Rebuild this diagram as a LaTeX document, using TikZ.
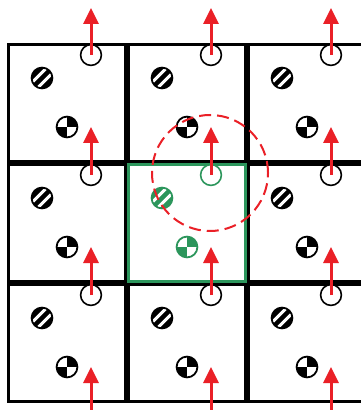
\documentclass[tikz,border=0pt]{standalone}
\usepackage{tikz}
\usetikzlibrary{positioning, arrows.meta, calc}
\definecolor{mred}{RGB}{234,32,39}
\definecolor{mgreen}{RGB}{44,150,92}

\begin{document}
\begin{tikzpicture}[
  x=0.5pt, y=0.5pt,
  cell/.style={draw=#1, line width=1.6pt, minimum size=58.4pt, inner sep=0pt},
  cell/.default=black,
  port/.style={circle, draw=#1, fill=white, line width=0.8pt, minimum size=10.4pt, inner sep=0pt},
  port/.default=black,
  mass/.style={circle, draw=#1, fill=white, line width=0.9pt, minimum size=10.4pt, inner sep=0pt,
               path picture={
                 \fill[#1] (path picture bounding box.center) rectangle (path picture bounding box.north east);
                 \fill[#1] (path picture bounding box.center) rectangle (path picture bounding box.south west);}},
  mass/.default=black,
  stripe/.style={circle, draw=#1, fill=#1, line width=0.9pt, minimum size=10.4pt, inner sep=0pt,
                 path picture={
                   \draw[white, line width=1.5pt]
                     ($(path picture bounding box.center)+(1.4pt,-1.4pt)+(-8pt,-8pt)$) -- ++(16pt,16pt)
                     ($(path picture bounding box.center)+(-1.4pt,1.4pt)+(-8pt,-8pt)$) -- ++(16pt,16pt);}},
  stripe/.default=black,
  flow/.style={-{Triangle[length=8pt, width=7.5pt]}, draw=mred, line width=1.5pt},
  reach/.style={circle, draw=mred, line width=1pt, dash pattern=on 6pt off 3pt,
                minimum size=58pt, inner sep=0pt},
]
\useasboundingbox (0,0) rectangle (360,-410);

% ================= cells =================
\node[cell] (a1) at (67,-103) {};
\node[cell, right=0pt of a1] (a2) {};
\node[cell, right=0pt of a2] (a3) {};
\node[cell, below=0pt of a1] (b1) {};
\node[cell=mgreen, right=0pt of b1] (b2) {};
\node[cell, right=0pt of b2] (b3) {};
\node[cell, below=0pt of b1] (c1) {};
\node[cell, right=0pt of c1] (c2) {};
\node[cell, right=0pt of c2] (c3) {};

% ================= Row a =================
\node[port] (pa1) at ($(a1)+(24,48)$) {};
\node[stripe] (sa1) at ($(a1)+(-25,25)$) {};
\node[mass] (ma1) at ($(a1)+(0,-24)$) {};
\node[port] (pa2) at ($(a2)+(24,48)$) {};
\node[stripe] (sa2) at ($(a2)+(-25,25)$) {};
\node[mass] (ma2) at ($(a2)+(0,-24)$) {};
\node[port] (pa3) at ($(a3)+(24,48)$) {};
\node[stripe] (sa3) at ($(a3)+(-25,25)$) {};
\node[mass] (ma3) at ($(a3)+(0,-24)$) {};

% ================= Row b (green cell in the middle) =================
\node[port] (pb1) at ($(b1)+(24,48)$) {};
\node[stripe] (sb1) at ($(b1)+(-25,25)$) {};
\node[mass] (mb1) at ($(b1)+(0,-24)$) {};
\node[port=mgreen] (pb2) at ($(b2)+(24,48)$) {};
\node[stripe=mgreen] (sb2) at ($(b2)+(-25,25)$) {};
\node[mass=mgreen] (mb2) at ($(b2)+(0,-24)$) {};
\node[port] (pb3) at ($(b3)+(24,48)$) {};
\node[stripe] (sb3) at ($(b3)+(-25,25)$) {};
\node[mass] (mb3) at ($(b3)+(0,-24)$) {};

% ================= Row c =================
\node[port] (pc1) at ($(c1)+(24,48)$) {};
\node[stripe] (sc1) at ($(c1)+(-25,25)$) {};
\node[mass] (mc1) at ($(c1)+(0,-24)$) {};
\node[port] (pc2) at ($(c2)+(24,48)$) {};
\node[stripe] (sc2) at ($(c2)+(-25,25)$) {};
\node[mass] (mc2) at ($(c2)+(0,-24)$) {};
\node[port] (pc3) at ($(c3)+(24,48)$) {};
\node[stripe] (sc3) at ($(c3)+(-25,25)$) {};
\node[mass] (mc3) at ($(c3)+(0,-24)$) {};

% ================= arrows =================
\coordinate (top) at (0,-8);
\coordinate (bot) at (0,-415);

\draw[flow] (pa1.center) -- (pa1 |- top);
\draw[flow] (pa2.center) -- (pa2 |- top);
\draw[flow] (pa3.center) -- (pa3 |- top);
\draw[flow] (pb1.center) -- (pb1 |- ma1);
\draw[flow] (pb2.center) -- (pb2 |- ma2);
\draw[flow] (pb3.center) -- (pb3 |- ma3);
\draw[flow] (pc1.center) -- (pc1 |- mb1);
\draw[flow] (pc2.center) -- (pc2 |- mb2);
\draw[flow] (pc3.center) -- (pc3 |- mb3);
\draw[flow] (pc1 |- bot) -- (pc1 |- mc1);
\draw[flow] (pc2 |- bot) -- (pc2 |- mc2);
\draw[flow] (pc3 |- bot) -- (pc3 |- mc3);

% dashed range round the green port
\node[reach] (zone) at ($(pb2)+(-1,2)$) {};

\end{tikzpicture}
\end{document}
